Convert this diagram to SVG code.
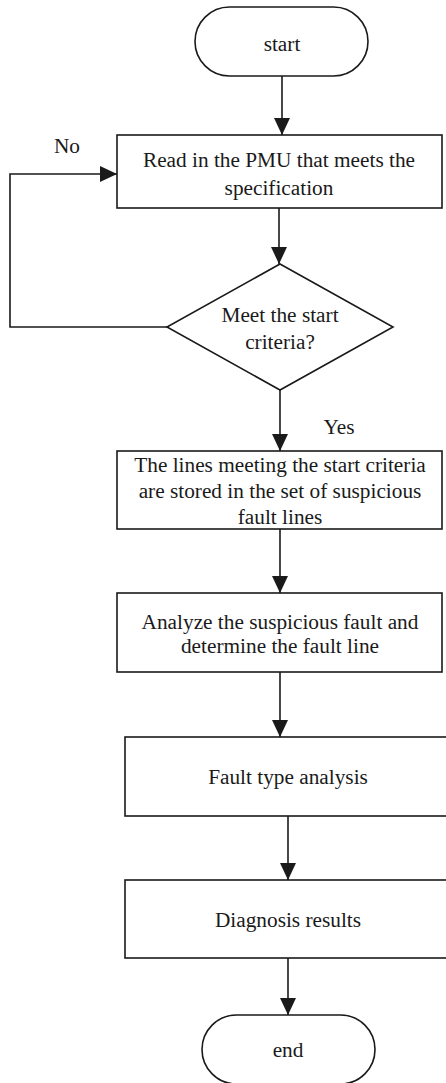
<svg xmlns="http://www.w3.org/2000/svg" width="446" height="1083" viewBox="0 0 446 1083">
<defs>
<style>
.s{fill:#fff;stroke:#1a1a1a;stroke-width:1.6}
.t{font-family:"Liberation Serif","Times New Roman",serif;font-size:21.3px;fill:#1a1a1a;text-anchor:middle}
.c{fill:none;stroke:#1a1a1a;stroke-width:1.6}
</style>
<marker id="a" markerWidth="17" markerHeight="16" refX="17" refY="8" orient="auto" markerUnits="userSpaceOnUse">
<path d="M0,0 L17,8 L0,16 Z" fill="#1a1a1a"/>
</marker>
</defs>
<rect width="446" height="1083" fill="#fff"/>
<g id="connectors">
<line class="c" x1="282" y1="76" x2="282" y2="135" marker-end="url(#a)"/>
<line class="c" x1="279" y1="208" x2="279" y2="264" marker-end="url(#a)"/>
<polyline class="c" points="167,327 10,327 10,174 117,174" marker-end="url(#a)"/>
<line class="c" x1="280" y1="390" x2="280" y2="451" marker-end="url(#a)"/>
<line class="c" x1="280" y1="529" x2="280" y2="593" marker-end="url(#a)"/>
<line class="c" x1="280" y1="672" x2="280" y2="737" marker-end="url(#a)"/>
<line class="c" x1="288" y1="816" x2="288" y2="880" marker-end="url(#a)"/>
<line class="c" x1="288" y1="958" x2="288" y2="1015" marker-end="url(#a)"/>
<text class="t" x="67" y="153">No</text>
<text class="t" x="339" y="434">Yes</text>
</g>
<g id="start">
<rect class="s" x="195" y="7" width="173" height="69" rx="34.5" ry="34.5"/>
<text class="t" x="282" y="51">start</text>
</g>
<g id="read">
<rect class="s" x="117" y="135" width="325" height="73"/>
<text class="t" x="279" y="167">Read in the PMU that meets the</text>
<text class="t" x="279" y="195">specification</text>
</g>
<g id="decision">
<polygon class="s" points="280,264 393,327 280,390 167,327"/>
<text class="t" x="280" y="322">Meet the start</text>
<text class="t" x="280" y="349">criteria?</text>
</g>
<g id="store">
<rect class="s" x="117" y="451" width="325" height="78"/>
<text class="t" x="280" y="472">The lines meeting the start criteria</text>
<text class="t" x="280" y="498">are stored in the set of suspicious</text>
<text class="t" x="280" y="524">fault lines</text>
</g>
<g id="analyze">
<rect class="s" x="117" y="593" width="325" height="79"/>
<text class="t" x="280" y="629">Analyze the suspicious fault and</text>
<text class="t" x="280" y="653">determine the fault line</text>
</g>
<g id="faulttype">
<rect class="s" x="125" y="737" width="327" height="79"/>
<text class="t" x="288" y="784">Fault type analysis</text>
</g>
<g id="diagnosis">
<rect class="s" x="125" y="880" width="327" height="78"/>
<text class="t" x="288" y="927">Diagnosis results</text>
</g>
<g id="end">
<rect class="s" x="202" y="1015" width="173" height="69" rx="34.5" ry="34.5"/>
<text class="t" x="288" y="1057">end</text>
</g>
</svg>
